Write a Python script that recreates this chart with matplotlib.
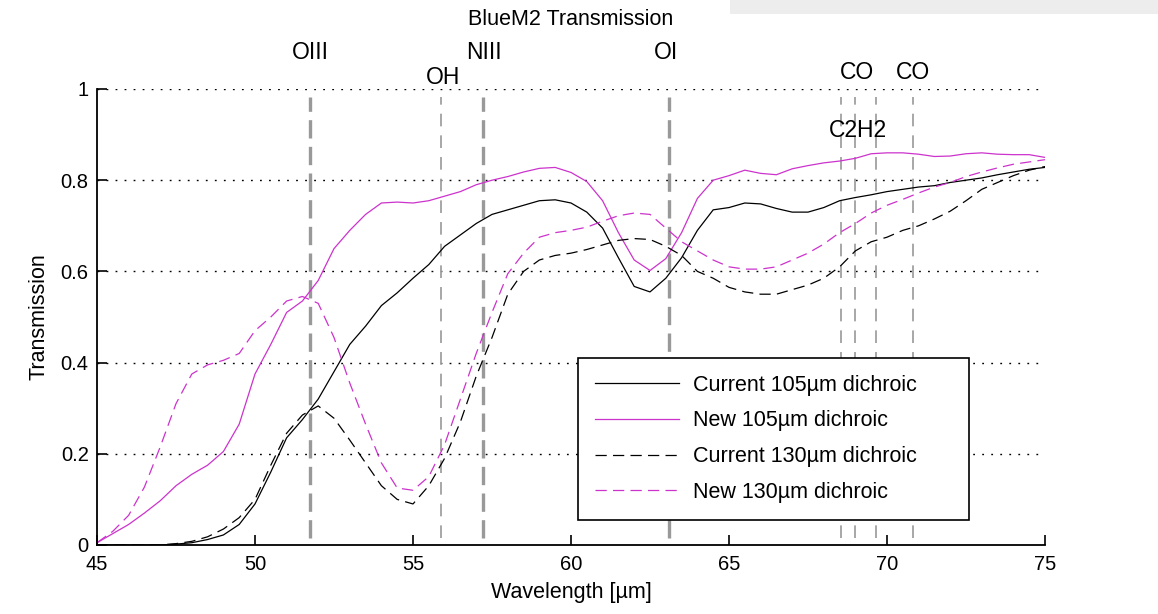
import matplotlib
matplotlib.use("Agg")
import matplotlib.pyplot as plt
from matplotlib.patches import Rectangle

plt.rcParams['font.family'] = ['Liberation Sans', 'DejaVu Sans']

# wavelength grid [um]
wl = [45, 45.5, 46, 46.5, 47, 47.5, 48, 48.5, 49, 49.5,
      50, 50.5, 51, 51.5, 52, 52.5, 53, 53.5, 54, 54.5,
      55, 55.5, 56, 56.5, 57, 57.5, 58, 58.5, 59, 59.5,
      60, 60.5, 61, 61.5, 62, 62.5, 63, 63.5, 64, 64.5,
      65, 65.5, 66, 66.5, 67, 67.5, 68, 68.5, 69, 69.5,
      70, 70.5, 71, 71.5, 72, 72.5, 73, 73.5, 74, 74.5, 75]

cur105 = [0.0, 0.0, 0.0, 0.0, 0.0, 0.002, 0.005, 0.012, 0.022, 0.045,
          0.09, 0.16, 0.235, 0.275, 0.32, 0.38, 0.44, 0.48, 0.525, 0.553,
          0.585, 0.615, 0.655, 0.68, 0.705, 0.725, 0.735, 0.745, 0.755, 0.757,
          0.75, 0.73, 0.695, 0.63, 0.567, 0.555, 0.585, 0.63, 0.69, 0.735,
          0.74, 0.75, 0.748, 0.738, 0.73, 0.73, 0.74, 0.755, 0.762, 0.768,
          0.775, 0.78, 0.785, 0.788, 0.795, 0.80, 0.805, 0.812, 0.818, 0.824, 0.828]

new105 = [0.005, 0.025, 0.045, 0.07, 0.097, 0.13, 0.155, 0.175, 0.205, 0.265,
          0.375, 0.44, 0.51, 0.535, 0.58, 0.65, 0.69, 0.725, 0.75, 0.752,
          0.75, 0.755, 0.765, 0.775, 0.79, 0.80, 0.808, 0.818, 0.826, 0.828,
          0.817, 0.797, 0.755, 0.685, 0.625, 0.602, 0.628, 0.685, 0.76, 0.80,
          0.81, 0.822, 0.815, 0.812, 0.825, 0.832, 0.838, 0.842, 0.848, 0.858,
          0.86, 0.86, 0.857, 0.852, 0.853, 0.858, 0.86, 0.857, 0.856, 0.856, 0.85]

cur130 = [0.0, 0.0, 0.0, 0.0, 0.0, 0.003, 0.008, 0.018, 0.035, 0.06,
          0.1, 0.175, 0.245, 0.285, 0.305, 0.278, 0.23, 0.18, 0.13, 0.1,
          0.09, 0.13, 0.19, 0.27, 0.37, 0.455, 0.55, 0.6, 0.625, 0.635,
          0.64, 0.648, 0.658, 0.668, 0.672, 0.67, 0.655, 0.635, 0.6, 0.585,
          0.565, 0.555, 0.55, 0.55, 0.56, 0.57, 0.585, 0.61, 0.645, 0.665,
          0.675, 0.69, 0.70, 0.715, 0.732, 0.755, 0.78, 0.795, 0.81, 0.822, 0.83]

new130 = [0.005, 0.03, 0.065, 0.127, 0.215, 0.31, 0.375, 0.395, 0.405, 0.42,
          0.47, 0.50, 0.535, 0.545, 0.53, 0.455, 0.355, 0.265, 0.18, 0.125,
          0.12, 0.15, 0.22, 0.32, 0.42, 0.51, 0.595, 0.64, 0.675, 0.685,
          0.69, 0.697, 0.71, 0.722, 0.728, 0.725, 0.695, 0.665, 0.645, 0.625,
          0.61, 0.605, 0.605, 0.61, 0.625, 0.64, 0.66, 0.685, 0.705, 0.728,
          0.745, 0.758, 0.772, 0.785, 0.795, 0.808, 0.818, 0.827, 0.835, 0.84, 0.845]

# spectral lines: thick ones and thin ones
thick_x = [51.74, 57.23, 63.1]
thin_x = [55.9, 68.54, 68.99, 69.65, 70.82]
line_labels = ["OIII", "OH", "NIII", "OI", "CO", "CO", "C2H2"]
label_x = [51.74, 55.95, 57.25, 63.0, 69.05, 70.82, 69.08]
label_y = [1.081, 1.026, 1.081, 1.081, 1.037, 1.037, 0.91]

magenta = '#cc33cc'

fig = plt.figure(figsize=(11.58, 6.14), dpi=100)
ax = fig.add_axes([97/1158, 1-545/614, 948/1158, 456/614])

# screenshot band top right
fig.patches.append(Rectangle((730/1158, 1-14/614), 1, 14/614, transform=fig.transFigure,
                             facecolor='#ededed', edgecolor='none', zorder=-5))

# grid lines (horizontal only, dotted)
for gy in [0.2, 0.4, 0.6, 0.8, 1.0]:
    ax.axhline(gy, color='black', lw=1.0, linestyle=(0, (1.3, 5.2)), zorder=0)

for x in thick_x:
    ax.plot([x, x], [0.015, 0.983], color='#999999', lw=2.4,
            linestyle=(0, (5.5, 2.5)), zorder=1)
for x in thin_x:
    ax.plot([x, x], [0.015, 0.983], color='#a0a0a0', lw=1.3,
            linestyle=(0, (7, 5)), zorder=1)

l1, = ax.plot(wl, cur105, color='black', lw=0.9, label='Current 105\u00b5m dichroic')
l2, = ax.plot(wl, new105, color=magenta, lw=0.9, label='New 105\u00b5m dichroic')
l3, = ax.plot(wl, cur130, color='black', lw=0.9, dashes=(9, 5), label='Current 130\u00b5m dichroic')
l4, = ax.plot(wl, new130, color=magenta, lw=0.9, dashes=(9, 5), label='New 130\u00b5m dichroic')

for t, x, y in zip(line_labels, label_x, label_y):
    ax.text(x, y, t, ha='center', va='center', fontsize=16.5, clip_on=False)

ax.set_xlim(45, 75)
ax.set_ylim(0, 1)
ax.set_xticks([45, 50, 55, 60, 65, 70, 75])
ax.set_yticks([0, 0.2, 0.4, 0.6, 0.8, 1])
ax.set_yticklabels(['0', '0.2', '0.4', '0.6', '0.8', '1'])
ax.tick_params(direction='in', length=7, width=1.2, labelsize=14.5)
ax.tick_params(axis='x', pad=7)
ax.tick_params(axis='y', pad=6)
for s in ['top', 'right']:
    ax.spines[s].set_visible(False)
for s in ['left', 'bottom']:
    ax.spines[s].set_linewidth(1.3)

ax.set_xlabel('Wavelength [\u00b5m]', fontsize=15.5, labelpad=6)
ax.set_ylabel('Transmission', fontsize=15.5, labelpad=8)
ax.set_title('BlueM2 Transmission', fontsize=15.5, pad=46)

leg = ax.legend(handles=[l1, l2, l3, l4], loc='lower left',
                bbox_to_anchor=(0.507, 0.055, 0.413, 0.357), mode='expand',
                borderaxespad=0, fontsize=15.5, frameon=True, fancybox=False,
                framealpha=1, edgecolor='black', handlelength=3.9, handletextpad=0.65,
                borderpad=0.8, labelspacing=0.68)
leg.get_frame().set_linewidth(1.2)
leg.set_zorder(5)

fig.savefig('out.png', dpi=100)
